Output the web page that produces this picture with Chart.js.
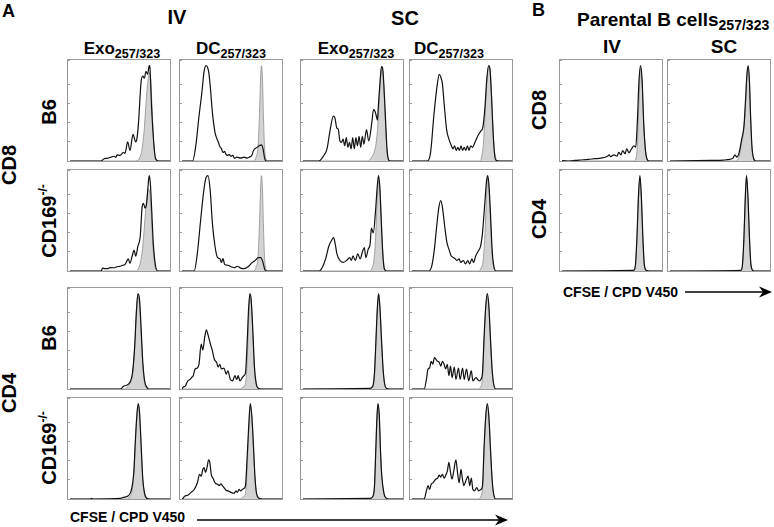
<!DOCTYPE html>
<html>
<head>
<meta charset="utf-8">
<script src="https://cdn.jsdelivr.net/npm/chart.js@4.4.1/dist/chart.umd.min.js"></script>
<style>
  body { margin: 0; width: 774px; height: 527px; position: relative; background: #fff; overflow: hidden;
         font-family: Arial, 'Liberation Sans', sans-serif; font-weight: bold; color: #000; }
  .lbl { position: absolute; white-space: nowrap; line-height: 1; }
  .ctr { transform: translateX(-50%); }
  .rot { transform: translate(-50%, -50%) rotate(-90deg); }
  .panel { position: absolute; width: 102px; height: 101px; border: 1px solid #9a9a9a; }
  .panel canvas { display: block; }
  sub { font-size: 74%; vertical-align: baseline; position: relative; top: 0.3em; }
  sup { font-size: 60%; vertical-align: baseline; position: relative; top: -0.75em; }
  svg { position: absolute; left: 0; top: 0; }
</style>
</head>
<body>

<div class="lbl" style="left:2px;top:2px;font-size:18px">A</div>
<div class="lbl ctr" style="left:177px;top:7px;font-size:20px">IV</div>
<div class="lbl ctr" style="left:405px;top:8px;font-size:20px">SC</div>
<div class="lbl" style="left:532px;top:1px;font-size:18px">B</div>
<div class="lbl" style="left:577px;top:10px;font-size:19px">Parental B cells<sub>257/323</sub></div>
<div class="lbl ctr" style="left:612px;top:37px;font-size:19px">IV</div>
<div class="lbl ctr" style="left:724px;top:37px;font-size:19px">SC</div>

<div class="lbl ctr" style="left:122px;top:40px;font-size:17px">Exo<sub>257/323</sub></div>
<div class="lbl ctr" style="left:231px;top:40px;font-size:17px">DC<sub>257/323</sub></div>
<div class="lbl ctr" style="left:356px;top:40px;font-size:17px">Exo<sub>257/323</sub></div>
<div class="lbl ctr" style="left:449px;top:40px;font-size:17px">DC<sub>257/323</sub></div>

<div class="lbl rot" style="left:9px;top:165px;font-size:20px">CD8</div>
<div class="lbl rot" style="left:9px;top:393px;font-size:20px">CD4</div>
<div class="lbl rot" style="left:49px;top:112px;font-size:20px">B6</div>
<div class="lbl rot" style="left:49px;top:221px;font-size:20px">CD169<sup>-/-</sup></div>
<div class="lbl rot" style="left:49px;top:338px;font-size:20px">B6</div>
<div class="lbl rot" style="left:49px;top:448px;font-size:20px">CD169<sup>-/-</sup></div>
<div class="lbl rot" style="left:539px;top:110px;font-size:20px">CD8</div>
<div class="lbl rot" style="left:539px;top:219px;font-size:20px">CD4</div>

<div class="lbl" style="left:70px;top:510px;font-size:14px">CFSE / CPD V450</div>
<div class="lbl" style="left:563px;top:285px;font-size:14px">CFSE / CPD V450</div>

<svg width="774" height="527">
  <line x1="197" y1="520" x2="500" y2="520" stroke="#000" stroke-width="1.5"/>
  <polygon points="508,520 495,514.5 499,520 495,525.5" fill="#000"/>
  <line x1="685" y1="292" x2="764" y2="292" stroke="#000" stroke-width="1.5"/>
  <polygon points="772,292 759,286.5 763,292 759,297.5" fill="#000"/>
</svg>

<script>
// x: CFSE / CPD V450 channel (0-100 across the panel), y: % of modal count
// black line = sample, grey fill = undivided reference

// ---- CD8, B6 ----
const cd8B6ExoIv = [[0,0],[31,0],[34,2.4],[38,3],[41,4],[44,5],[46,4],[47,6.5],[50,6],[53.5,9],[55,8],[57.7,20],[60,11],[63,28],[65.7,20],[67,24],[68.5,40],[71,82],[72.8,89],[74.4,87],[76,94],[77.6,91],[79.2,100],[79.8,99],[81.7,54],[84,16],[85.6,2.4],[88.8,0],[100,0]];
const cd8B6ExoIvRef = [[0,0],[66,0],[70,4],[72,12],[74,30],[76,60],[78,85],[79.5,93],[81,80],[82.5,45],[84,15],[86,2],[88,0],[100,0]];
const cd8B6DcIv = [[0,0],[10.6,0],[13.8,16],[17,47],[20.2,75],[21.8,92],[24,100],[26.6,94],[28.2,79],[30.4,51],[33,30],[36.2,20],[38,15],[39.4,13],[41,9],[42.6,10],[44,7],[45.8,6],[47,7],[49,5],[51,6],[52.2,3],[55,4],[58.7,3],[62,4],[65,3],[67,4],[69.9,6],[71.5,11],[74.7,14],[77.2,16],[79.5,17],[81,13],[82.7,2.4],[84.3,0],[100,0]];
const cd8B6DcIvRef = [[0,0],[72,0],[74,4],[76,15],[77.5,50],[78.7,90],[79.5,100],[80.5,85],[81.5,45],[82.5,15],[84,2],[86,0],[100,0]];
const cd8B6ExoSc = [[0,0],[16,0],[20.8,5.8],[24,12.7],[27.2,33],[30.4,47],[32,45],[33.7,35],[35.3,33],[36.9,21],[38.5,19.5],[40.1,23],[41.7,16],[43.3,24.6],[44.9,14.4],[46.5,19.5],[48.1,12.7],[49.7,24.6],[51.3,12.7],[52.9,24.6],[54.5,16],[56.1,26],[57.7,14.4],[59.3,26],[60.9,17.8],[63.5,33],[65.7,21],[68.9,41],[70.5,54],[72.1,52],[73.1,48],[74.4,43],[75.3,57],[76.9,81],[78.5,99],[79.5,98],[80.8,81],[82.4,47],[84,12.7],[85.9,0.7],[88.1,0],[100,0]];
const cd8B6ExoScRef = [[0,0],[64.5,0],[68,3],[71,9],[73,18],[75,40],[77,78],[78.5,97],[79.8,95],[80.8,78],[82.4,40],[84,10],[86,1],[88,0],[100,0]];
const cd8B6DcSc = [[0,0],[15.4,0],[18.6,9],[21.8,47],[25,78],[27.2,91],[28.8,88],[30.4,81],[32.4,57],[34.6,33],[36.9,23],[39.4,16],[41,12.7],[42.6,16],[44.2,11],[45.8,14.4],[47.4,11],[49,16],[50.6,11],[52.2,14.4],[53.8,11],[55.4,16],[57,11],[58.7,16],[60.3,14.4],[63.5,21],[66.7,28],[68.9,31.5],[70.8,35],[73,57],[74.7,84.6],[76.6,100],[77.9,97],[79.5,68],[81.1,30],[82.7,5.8],[84.3,0.5],[87.5,0],[100,0]];
const cd8B6DcScRef = [[0,0],[68.3,0],[69.9,6],[71.5,19.5],[73,47],[74.7,81],[76.6,99],[78.5,91],[79.8,64],[81.1,30],[82.7,9],[84.3,2],[85.9,0],[100,0]];

// ---- CD8, CD169-/- ----
const cd8KoExoIv = [[0,0],[31.1,0],[32.7,3],[35,2.5],[37.5,2.4],[40,3.5],[43.9,3.4],[47,4.5],[50.3,5],[53,6],[55.1,7],[58.3,12.8],[59.9,8],[62.5,17],[64.1,22],[65.7,15.5],[67.9,26],[70.2,36],[72.1,67],[73.4,71],[75,66],[76.6,71],[78.2,91],[79.2,100],[80.4,91],[81.7,64],[83.3,29],[85.6,5],[88.1,0],[100,0]];
const cd8KoExoIvRef = [[0,0],[66,0],[69,4],[71,12],[73,28],[75,55],[77,78],[78.5,86],[80,80],[81.5,55],[83,25],[85,5],[87,0],[100,0]];
const cd8KoDcIv = [[0,0],[12.2,0],[15.4,19],[18.6,53],[21.8,84.5],[24,98],[26,100],[28.2,84.5],[30.4,50],[33,26],[35.6,14],[37.8,13],[39.4,9],[41,13],[42.6,7],[45.8,6],[49,4.5],[52.2,3.4],[55.4,5],[58.7,3],[61.9,2.4],[66.7,5],[69.9,8.6],[73.1,11],[76.3,14],[78.8,14],[81.1,8.6],[82.7,1.7],[84.3,0],[100,0]];
const cd8KoDcIvRef = [[0,0],[72,0],[74,4],[76,15],[77.5,50],[78.7,90],[79.5,100],[80.5,85],[81.5,45],[82.5,15],[84,2],[86,0],[100,0]];
const cd8KoExoSc = [[0,0],[16.1,0],[19.4,4],[22.6,12.7],[25.8,26],[29,33],[30.6,35],[32.3,28],[33.9,18],[37.1,11],[40.3,9],[43.5,11],[46.8,14],[48.4,11],[50,16],[52.3,11],[54.8,18],[57.1,12.7],[59.7,21],[61.3,24.6],[62.9,14],[65.2,23],[67.1,28],[68.4,45],[70.3,40],[72.6,64],[74.2,88],[75.5,100],[76.8,88],[78.1,57],[79.7,19.5],[81.3,2.4],[83.9,0],[100,0]];
const cd8KoExoScRef = [[0,0],[67,0],[69,3],[71,12],[72.6,35],[74,70],[75.5,95],[77,85],[78.5,50],[80,18],[81.5,3],[83,0],[100,0]];
const cd8KoDcSc = [[0,0],[16.7,0],[19.9,6],[22.4,23],[24.7,47],[26.9,67],[28.8,74],[30.4,67],[32.7,47],[34.9,30],[36.9,23],[39.1,16],[41.7,14],[43.3,12.7],[44.9,11],[47.1,12.7],[48.7,9],[51.3,11],[53.5,7.5],[55.8,11],[57.7,7.5],[59.9,12.7],[61.5,9],[63.8,16],[66.3,21],[68.6,26],[70.5,40],[72.8,71],[74.4,93],[75.6,100],[76.9,91],[78.5,60],[80.1,23],[81.7,6],[84,0],[100,0]];
const cd8KoDcScRef = [[0,0],[67,0],[69,3],[71,10],[72.8,35],[74.4,75],[75.6,98],[77,85],[78.5,50],[80,18],[81.7,4],[84,0],[100,0]];

// ---- CD4, B6 ----
const cd4B6ExoIv = [[0,0],[50.3,0],[53.5,2.8],[56.7,4],[59.9,7],[62.5,17],[64.7,45],[66.3,79],[67.9,100],[69.6,93],[71.2,62],[72.8,28],[74.4,10],[76,3.4],[79.2,0],[100,0]];
const cd4B6ExoIvRef = [[0,0],[55,0],[58,3],[61,8],[63,20],[65,50],[66.5,85],[67.9,98],[69.5,90],[71,60],[72.8,25],[74.5,8],[76,2],[79,0],[100,0]];
const cd4B6DcIv = [[0,0],[1,1.7],[3.5,3.4],[5.8,8.6],[8,10],[9.6,12],[11.2,14],[13.1,21],[15.4,22],[17,26],[19.2,47],[20.8,41],[22.8,55],[24.4,62],[26,57],[28.2,48],[30.4,40],[32.4,31],[34.6,28],[36.2,23],[37.8,26],[39.4,21],[42,22],[44.2,15.5],[45.8,19],[48.4,10],[50.6,8.6],[52.9,14],[54.8,10],[56.1,14],[58,8.6],[60.3,12],[61.9,14],[63.5,17],[65,45],[66.7,86],[67.9,100],[69.2,93],[70.8,62],[72.4,24],[74,7],[76.3,0.7],[79.5,0],[100,0]];
const cd4B6DcIvRef = [[0,0],[58,0],[61,2],[63.5,6],[65,25],[66.7,75],[67.9,98],[69.2,92],[70.8,60],[72.4,22],[74,6],[76,1],[78,0],[100,0]];
const cd4B6ExoSc = [[0,0],[67.3,0.7],[69.9,3.4],[71.5,17],[73.1,55],[74.4,86],[75.6,100],[76.9,86],[78.5,52],[80.1,21],[81.7,5],[83.3,0.7],[86.5,0],[100,0]];
const cd4B6ExoScRef = [[0,0],[67,0],[70,3],[71.5,16],[73.1,54],[74.4,85],[75.6,99],[76.9,86],[78.5,51],[80.1,20],[81.7,5],[83.3,1],[86,0],[100,0]];
const cd4B6DcSc = [[0,0],[12.2,0],[14.4,10],[16,21],[17.6,22],[19.2,29],[20.8,26],[22.4,33],[24,31],[25.6,29],[27.2,28],[28.8,24],[30.4,29],[32.1,26],[33.7,21],[35.3,26],[36.9,14],[38.5,24],[40.1,12],[42.3,23],[43.9,10],[46.5,22],[48.1,10],[50.6,22],[52.2,10],[54.5,21],[56.7,8.6],[59.3,19],[60.9,8.6],[64.1,12],[65.7,10],[67.3,8.6],[68.9,10],[70.5,17],[72.1,55],[73.7,86],[75.3,100],[76.9,86],[78.5,52],[80.1,21],[81.7,5],[84,0],[100,0]];
const cd4B6DcScRef = [[0,0],[66,0],[69,3],[70.5,12],[72.1,50],[73.7,85],[75.3,99],[76.9,86],[78.5,52],[80.1,20],[81.7,5],[84,0],[100,0]];

// ---- CD4, CD169-/- ----
const cd4KoExoIv = [[0,0],[20,0],[21.5,0.7],[23,0],[50.3,0.7],[53.5,1.7],[58.3,3.4],[61.5,10],[63.8,28],[65.4,62],[67,90],[68.3,100],[69.6,90],[71.2,55],[72.8,21],[74.4,7],[76,1.7],[79.2,0],[100,0]];
const cd4KoExoIvRef = [[0,0],[58,0],[60,3],[62,8],[63.8,26],[65.4,60],[67,88],[68.3,98],[69.6,88],[71.2,54],[72.8,20],[74.4,6],[76,1],[79,0],[100,0]];
const cd4KoDcIv = [[0,0],[1,0.7],[2.6,2.8],[5.8,4],[9,7],[12.2,10],[15.4,17],[17.6,26],[19.2,24],[20.8,31],[22.1,33],[23.4,28],[25,33],[26.6,41],[27.9,38],[29.2,26],[31.4,21],[33,17],[35.6,15.5],[37.2,14],[38.8,16],[40.4,14],[42,12],[44.2,9],[45.8,8.6],[49,7],[52.2,6],[53.8,8.6],[55.4,7],[57,10],[58.7,8.6],[60.3,10],[61.9,11],[63.5,14],[65,41],[66.7,76],[68.3,100],[69.9,86],[71.5,55],[73.1,21],[74.7,5],[77.2,0.7],[81.1,0],[100,0]];
const cd4KoDcIvRef = [[0,0],[58,0],[61,2],[63.5,6],[65,30],[66.7,72],[68.3,98],[69.9,85],[71.5,52],[73.1,20],[74.7,5],[77,0],[100,0]];
const cd4KoExoSc = [[0,0],[67.3,0.7],[69.9,2.8],[71.5,14],[72.8,52],[74,87],[75,100],[76.3,87],[77.6,48],[78.8,24],[80.8,7],[83.3,0.7],[86.5,0],[100,0]];
const cd4KoExoScRef = [[0,0],[67,0],[70,3],[71.5,14],[72.8,50],[74,85],[75,99],[76.3,86],[77.6,48],[78.8,24],[80.8,6],[83.3,1],[86,0],[100,0]];
const cd4KoDcSc = [[0,0],[12.2,0],[14.4,8.6],[16,14],[17.6,10],[19.2,15.5],[20.8,17],[22.4,19],[24,21],[25.6,22],[27.2,25],[28.8,23],[30.4,26],[32.1,22],[33.7,25],[35.3,29],[36.9,38.5],[38.5,28],[40.1,21],[41.7,29],[43.9,41],[45.5,28],[47.1,17],[49,31],[50.3,22],[51.9,14],[53.8,19],[56.1,24],[57.7,14],[59.3,22],[60.9,10],[62.5,8.6],[64.7,12],[66.7,8.6],[68.9,10],[70.5,14],[72.1,55],[73.7,86],[75.3,100],[76.9,86],[78.5,52],[80.1,21],[81.7,5],[84,0],[100,0]];
const cd4KoDcScRef = [[0,0],[66,0],[69,3],[70.5,12],[72.1,50],[73.7,85],[75.3,99],[76.9,86],[78.5,52],[80.1,20],[81.7,5],[84,0],[100,0]];

// ---- B: parental B cells ----
const cd8ParIv = [[0,0],[0.6,0.5],[7,0],[16.7,1],[26.3,1.7],[32.7,2.4],[39.1,3],[45.5,5],[47.1,6.5],[48.7,4.5],[51.9,6.5],[55.1,5],[56.7,9],[59,6.5],[60.6,11],[63.1,7.6],[64.7,12.8],[67,8.6],[68.6,11],[70.2,13.8],[71.8,16],[73.7,14.5],[75.3,40],[76.9,82],[78.5,100],[80.1,85],[81.7,40],[83.3,13],[84.9,2.4],[87.2,0],[100,0]];
const cd8ParIvRef = [[0,0],[72,0],[74,3],[75.3,15],[76.9,60],[78.5,98],[80.1,82],[81.7,40],[83.3,12],[85,2],[87,0],[100,0]];
const cd8ParSc = [[0,0],[40.6,0.7],[53.3,1],[59.7,1.7],[62.9,3],[65.1,6.5],[66.7,4],[69.2,9],[71.7,23],[74,37],[75.6,65],[76.8,89],[78.1,100],[79.4,85],[80.6,47],[81.9,16],[83.5,3],[85.7,0],[100,0]];
const cd8ParScRef = [[0,0],[66,0],[68,2],[69.2,5],[71.7,20],[74,35],[75.6,62],[76.8,88],[78.1,98],[79.4,83],[80.6,45],[81.9,15],[83.5,3],[86,0],[100,0]];
const cd4ParIv = [[0,0],[71.5,0.7],[73.4,6.1],[75,37],[76.3,75],[77.9,100],[79.5,75],[80.8,37],[82.4,6.1],[84.3,0.7],[87.5,0],[100,0]];
const cd4ParIvRef = [[0,0],[71.5,0],[73.4,5],[75,35],[76.3,73],[77.9,98],[79.5,73],[80.8,35],[82.4,5],[84.3,0.5],[87.5,0],[100,0]];
const cd4ParSc = [[0,0],[70.8,0.7],[72.4,6.1],[74,37],[75.2,75],[76.5,100],[78.1,75],[79.4,37],[81,6.1],[82.9,0.7],[85.1,0],[100,0]];
const cd4ParScRef = [[0,0],[70.8,0],[72.4,5],[74,35],[75.2,73],[76.5,98],[78.1,73],[79.4,35],[81,5],[82.9,0.5],[85.1,0],[100,0]];

/* ============================================================
   PANEL LAYOUT
   ============================================================ */

const colLeft = [67, 179, 300, 409, 559, 667];
const rowTop  = [59, 169, 287, 397];

const panels = [
  [0, 0, cd8B6ExoIv, cd8B6ExoIvRef], [1, 0, cd8B6DcIv, cd8B6DcIvRef], [2, 0, cd8B6ExoSc, cd8B6ExoScRef], [3, 0, cd8B6DcSc, cd8B6DcScRef],
  [0, 1, cd8KoExoIv, cd8KoExoIvRef], [1, 1, cd8KoDcIv, cd8KoDcIvRef], [2, 1, cd8KoExoSc, cd8KoExoScRef], [3, 1, cd8KoDcSc, cd8KoDcScRef],
  [0, 2, cd4B6ExoIv, cd4B6ExoIvRef], [1, 2, cd4B6DcIv, cd4B6DcIvRef], [2, 2, cd4B6ExoSc, cd4B6ExoScRef], [3, 2, cd4B6DcSc, cd4B6DcScRef],
  [0, 3, cd4KoExoIv, cd4KoExoIvRef], [1, 3, cd4KoDcIv, cd4KoDcIvRef], [2, 3, cd4KoExoSc, cd4KoExoScRef], [3, 3, cd4KoDcSc, cd4KoDcScRef],
  [4, 0, cd8ParIv, cd8ParIvRef], [5, 0, cd8ParSc, cd8ParScRef],
  [4, 1, cd4ParIv, cd4ParIvRef], [5, 1, cd4ParSc, cd4ParScRef],
];

function makePanel([col, row, line, ref]) {
  const box = document.createElement('div');
  box.className  = 'panel';
  box.style.left = colLeft[col] + 'px';
  box.style.top  = rowTop[row] + 'px';
  const cv = document.createElement('canvas');
  cv.width = 102; cv.height = 101;
  box.appendChild(cv);
  document.body.appendChild(box);

  new Chart(cv, {
    type: 'line',
    data: {
      datasets: [
        { data: line, borderColor: '#111', borderWidth: 1.2, fill: false, order: 0 },
        { data: ref, borderColor: '#8e8e8e', borderWidth: 0.8, backgroundColor: '#d3d3d3', fill: 'origin', order: 1 },
      ],
    },
    options: {
      responsive: false,
      animation: false,
      events: [],
      layout: { padding: 0 },
      elements: { point: { radius: 0 }, line: { cubicInterpolationMode: 'monotone' } },
      plugins: { legend: { display: false }, tooltip: { enabled: false } },
      scales: {
        x: { type: 'linear', min: 0, max: 100, display: false },
        y: {
          min: 0, max: 106,
          border: { display: false },
          grid: { drawOnChartArea: false, tickLength: 2, color: '#9a9a9a' },
          ticks: { display: false, stepSize: 20 },
        },
      },
    },
  });
}

panels.forEach(makePanel);
</script>
</body>
</html>
